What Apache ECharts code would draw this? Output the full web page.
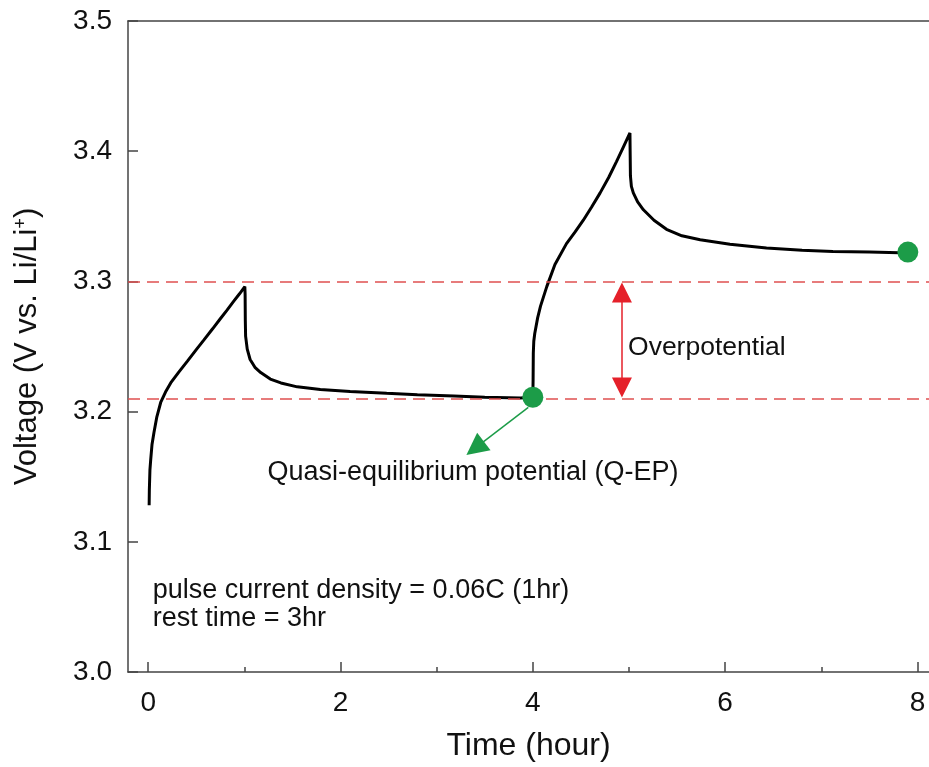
<!DOCTYPE html>
<html>
<head>
<meta charset="utf-8">
<script src="https://cdn.jsdelivr.net/npm/echarts@6/dist/echarts.min.js"></script>
<style>
html,body{margin:0;padding:0;background:#fff;}
#chart{width:929px;height:767px;}
</style>
</head>
<body>
<div id="chart"></div>
<script>
// ---- data ----
const timeHours = [
  0.01, 0.012, 0.018, 0.026, 0.04, 0.06, 0.09, 0.13, 0.18, 0.234, 0.32, 0.41, 0.50, 0.58, 0.67, 0.75, 0.82, 0.89, 0.95, 1.005,
  1.008, 1.01, 1.013, 1.03, 1.06, 1.11, 1.17, 1.27, 1.38, 1.55, 1.79, 2.1, 2.48, 2.8, 3.18, 3.5, 3.87, 4.0,
  4.003, 4.005, 4.01, 4.02, 4.05, 4.08, 4.145, 4.23, 4.35, 4.44, 4.525, 4.61, 4.70, 4.79, 4.87, 4.94, 5.01,
  5.012, 5.015, 5.025, 5.045, 5.09, 5.15, 5.26, 5.39, 5.55, 5.74, 6.05, 6.43, 6.8, 7.12, 7.5, 7.81, 7.9
];
const voltage = [
  3.128, 3.14, 3.155, 3.163, 3.175, 3.184, 3.196, 3.207, 3.215, 3.222, 3.2305, 3.239, 3.2476, 3.2551, 3.2636, 3.2713, 3.278, 3.2848, 3.2905, 3.296,
  3.29, 3.27, 3.258, 3.248, 3.240, 3.234, 3.230, 3.225, 3.222, 3.219, 3.217, 3.2155, 3.214, 3.213, 3.212, 3.211, 3.2105, 3.211,
  3.225, 3.245, 3.254, 3.26, 3.272, 3.281, 3.296, 3.313, 3.329, 3.338, 3.347, 3.357, 3.368, 3.380, 3.392, 3.403, 3.414,
  3.40, 3.381, 3.373, 3.368, 3.361, 3.355, 3.347, 3.340, 3.335, 3.332, 3.3285, 3.3257, 3.324, 3.323, 3.3225, 3.322, 3.3222
];
const qepTimes = [4.0, 7.9];
const qepVoltages = [3.211, 3.3225];
const refLevels = [3.2975, 3.210];
const overpotArrow = { t: 4.927, from: 3.2914, to: 3.2186 };
const qepArrow = { from: [3.953, 3.2032], to: [3.40, 3.1719] };
const xMajorTicks = [0, 2, 4, 6, 8];
const xMinorTicks = [1, 3, 5, 7];
const notes = [
  { text: 'Overpotential', t: 4.99, v: 3.2492, size: 26.5 },
  { text: 'Quasi-equilibrium potential (Q-EP)', t: 1.24, v: 3.1534, size: 27 },
  { text: 'pulse current density = 0.06C (1hr)', t: 0.047, v: 3.0629, size: 27 },
  { text: 'rest time = 3hr', t: 0.047, v: 3.0414, size: 27 }
];

const xMin = -0.21, xMax = 8.12;
const FONT = 'Liberation Sans, Arial, sans-serif';
const axisColor = '#444';
const green = '#1c9c48';
const red = '#e5202a';

const curve = timeHours.map((t, i) => [t, voltage[i]]);
const dots = qepTimes.map((t, i) => [t, qepVoltages[i]]);

const chart = echarts.init(document.getElementById('chart'), null, { renderer: 'canvas' });
chart.setOption({
  backgroundColor: '#fff',
  animation: false,
  textStyle: { fontFamily: FONT },
  grid: { left: 128, right: 0, top: 21, bottom: 94, containLabel: false },
  xAxis: [
    {
      type: 'value', min: xMin, max: xMax, position: 'bottom',
      name: 'Time (hour)', nameLocation: 'middle', nameGap: 58,
      nameTextStyle: { fontSize: 32, color: '#111', fontFamily: FONT },
      axisLine: { show: true, onZero: false, lineStyle: { color: axisColor, width: 1.5 } },
      axisTick: { show: true, inside: true, length: 10, customValues: xMajorTicks, lineStyle: { color: axisColor, width: 1.5 } },
      axisLabel: { show: true, customValues: xMajorTicks, fontSize: 28, color: '#111', margin: 17, fontFamily: FONT },
      splitLine: { show: false }
    },
    {
      type: 'value', min: xMin, max: xMax, position: 'bottom',
      axisLine: { show: false },
      axisTick: { show: true, inside: true, length: 5, customValues: xMinorTicks, lineStyle: { color: axisColor, width: 1.5 } },
      axisLabel: { show: false },
      splitLine: { show: false }
    },
    {
      type: 'value', min: xMin, max: xMax, position: 'top',
      axisLine: { show: true, onZero: false, lineStyle: { color: axisColor, width: 1.5 } },
      axisTick: { show: false }, axisLabel: { show: false }, splitLine: { show: false }
    }
  ],
  yAxis: {
    type: 'value', min: 3.0, max: 3.5, interval: 0.1,
    name: 'Voltage (V vs. Li/Li{sup|+})', nameLocation: 'middle', nameGap: 85,
    nameTextStyle: {
      fontSize: 31, color: '#111', fontFamily: FONT,
      rich: { sup: { fontSize: 18, verticalAlign: 'top', color: '#111', fontFamily: FONT } }
    },
    axisLine: { show: true, onZero: false, lineStyle: { color: axisColor, width: 1.5 } },
    axisTick: { show: true, inside: true, length: 10, lineStyle: { color: axisColor, width: 1.5 } },
    axisLabel: { fontSize: 28, color: '#111', margin: 16, fontFamily: FONT, formatter: v => v.toFixed(1) },
    splitLine: { show: false }
  },
  series: [
    {
      type: 'line', xAxisIndex: 0, data: curve, showSymbol: false, smooth: false,
      lineStyle: { color: '#000', width: 3 }, z: 3,
      markLine: {
        silent: true, symbol: ['none', 'none'], animation: false,
        label: { show: false },
        lineStyle: { color: '#e05050', type: [12, 7], width: 1.5 },
        data: refLevels.map(v => ({ yAxis: v }))
      },
      markPoint: {
        silent: true, symbol: 'circle', symbolSize: 0,
        data: notes.map(n => ({
          coord: [n.t, n.v], value: n.text,
          label: { show: true, position: 'right', distance: 0, formatter: n.text, fontSize: n.size, color: '#111', fontFamily: FONT }
        }))
      }
    },
    {
      type: 'scatter', xAxisIndex: 0, data: dots, symbolSize: 21,
      itemStyle: { color: green, opacity: 1 }, z: 5,
      emphasis: { disabled: true },
      markLine: {
        silent: true, animation: false,
        label: { show: false },
        data: [
          [
            { coord: [overpotArrow.t, overpotArrow.from], symbol: 'triangle', symbolSize: 20,
              lineStyle: { color: red, width: 1.5, type: 'solid' }, itemStyle: { color: red } },
            { coord: [overpotArrow.t, overpotArrow.to], symbol: 'triangle', symbolSize: 20 }
          ],
          [
            { coord: qepArrow.from, symbol: 'none',
              lineStyle: { color: green, width: 1.5, type: 'solid' }, itemStyle: { color: green } },
            { coord: qepArrow.to, symbol: 'triangle', symbolSize: 22 }
          ]
        ]
      }
    }
  ]
});
</script>
</body>
</html>
